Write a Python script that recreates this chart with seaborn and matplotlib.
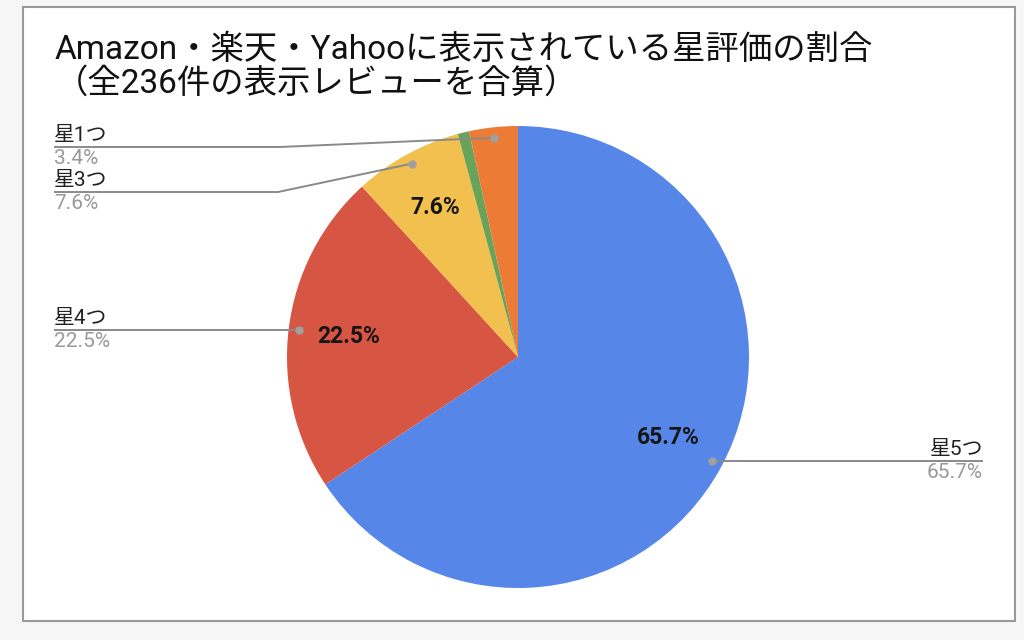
import matplotlib
matplotlib.use('Agg')
import matplotlib.pyplot as plt
import seaborn as sns
import numpy as np
from matplotlib.patches import Rectangle

# ---- data ----
labels = ['星5つ', '星4つ', '星3つ', '星2つ', '星1つ']
values = [65.7, 22.5, 7.6, 0.8, 3.4]
colors = ['#5686E8', '#D65543', '#F2C04F', '#69A35A', '#EC7B36']
title_lines = ['Amazon・楽天・Yahooに表示されている星評価の割合',
               '（全236件の表示レビューを合算）']

sns.set_theme(style='white')
plt.rcParams['font.family'] = ['Roboto', 'Noto Sans CJK JP', 'DejaVu Sans']

W, H = 1024, 640
fig = plt.figure(figsize=(10.24, 6.4), dpi=100)
fig.patch.set_facecolor('#f6f6f6')
ax = fig.add_axes([0, 0, 1, 1])


def Y(y):
    return H - y


# chart frame
ax.add_patch(Rectangle((23, Y(621)), 992, 614, facecolor='white',
                       edgecolor='#9a9a9a', lw=1.5, zorder=0))

cx, cy, R = 518, Y(357), 231


def pct_fmt(p):
    return f'{p:.1f}%' if p >= 5 else ''


wedges, texts, autotexts = ax.pie(
    values, colors=colors, startangle=90, counterclock=False,
    center=(cx, cy), radius=R, autopct=pct_fmt, pctdistance=0.74,
    textprops=dict(fontsize=16.5, fontweight='bold', color='#151515'),
    wedgeprops=dict(linewidth=0), frame=True)

ax.set_xlim(0, W)
ax.set_ylim(0, H)
ax.set_aspect('equal')
ax.axis('off')

# leader-line layout (label placement only)
layout = {
    '星5つ': dict(ha='right', x_end=983, elbow=None),
    '星4つ': dict(ha='left', x_end=54, elbow=None),
    '星3つ': dict(ha='left', x_end=54, elbow=(278, 192)),
    '星1つ': dict(ha='left', x_end=54, elbow=(280, 147)),
}
line_col = '#8a8a8a'
for w, lab, val in zip(wedges, labels, values):
    if lab not in layout:
        continue
    cfg = layout[lab]
    ang = np.deg2rad((w.theta1 + w.theta2) / 2)
    px = cx + 0.955 * R * np.cos(ang)
    py = cy + 0.955 * R * np.sin(ang)
    if cfg['elbow'] is None:
        xs = [px, cfg['x_end']]
        ys = [py, py]
        ly = py
    else:
        ex, ey = cfg['elbow']
        xs = [px, ex, cfg['x_end']]
        ys = [py, Y(ey), Y(ey)]
        ly = Y(ey)
    ax.plot(xs, ys, color=line_col, lw=1.4, zorder=5, solid_capstyle='butt')
    ax.plot([px], [py], 'o', color='#a0a0a0', ms=5, zorder=6)
    ax.text(cfg['x_end'], ly + 2, lab, ha=cfg['ha'], va='bottom',
            fontsize=15, color='#222222', zorder=6)
    ax.text(cfg['x_end'], ly - 2, f'{val:.1f}%', ha=cfg['ha'], va='top',
            fontsize=15, color='#999999', zorder=6)

# title
fig.text(55 / W, 1 - 50 / H, title_lines[0], ha='left', va='center',
         fontsize=24, color='#111111')
fig.text(55 / W, 1 - 84 / H, title_lines[1], ha='left', va='center',
         fontsize=24, color='#111111')

fig.savefig('out.png', dpi=100, facecolor=fig.get_facecolor())
